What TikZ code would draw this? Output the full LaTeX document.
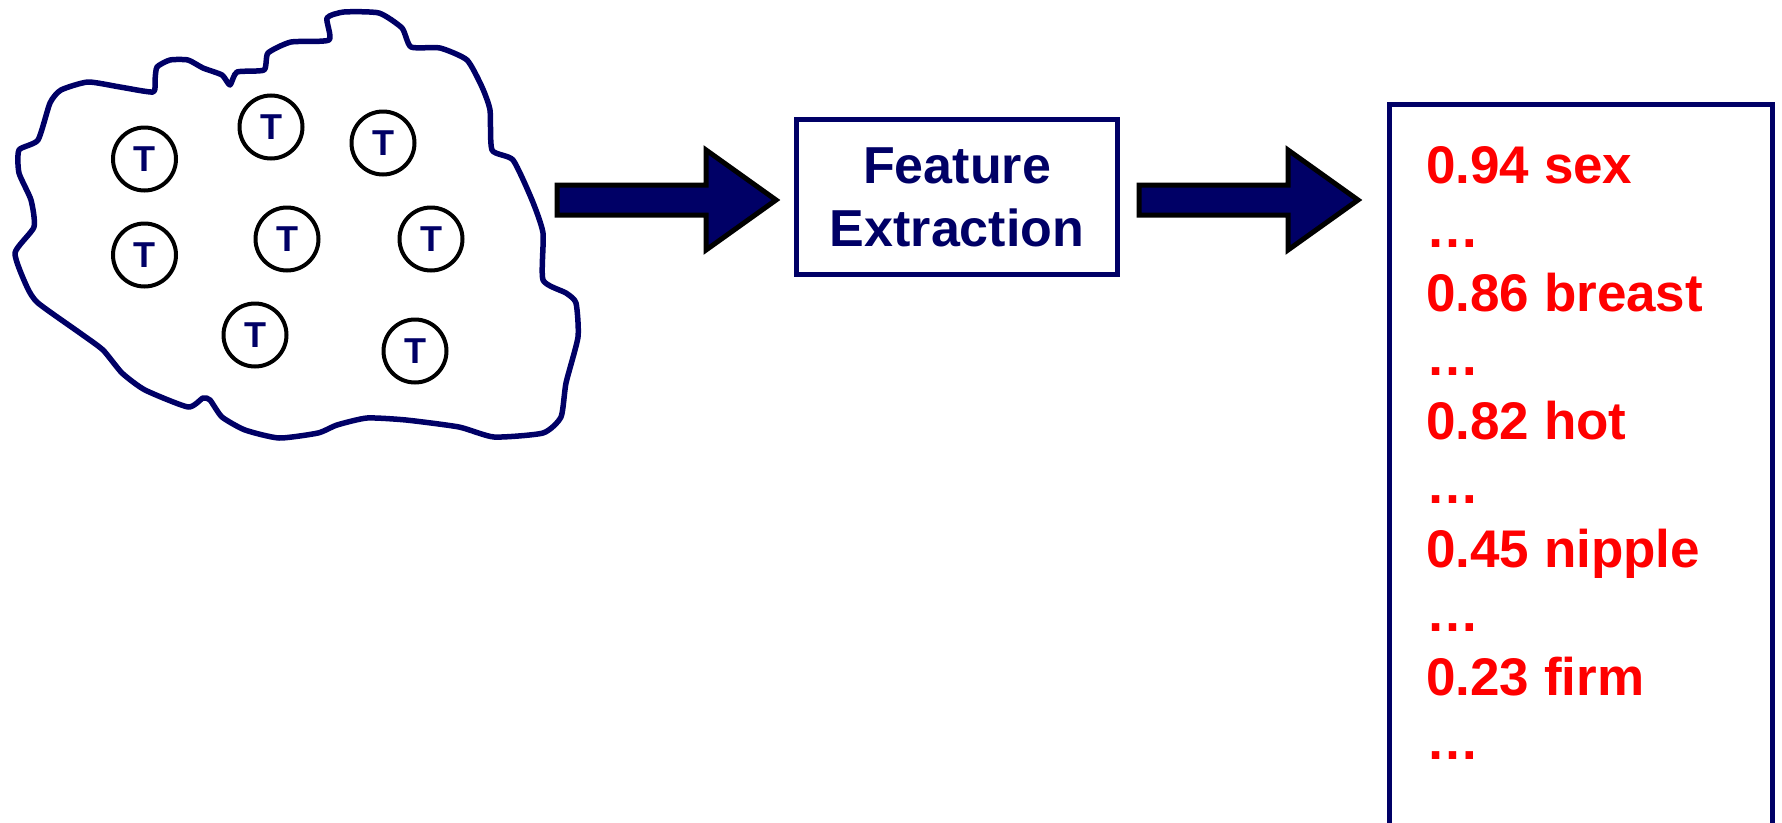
\documentclass[tikz,border=0pt]{standalone}
\usepackage{fontspec}
\setmainfont{Liberation Sans}
\definecolor{navy}{RGB}{0,0,102}
\definecolor{scorered}{RGB}{255,0,0}

\tikzset{
  blobline/.style={draw=navy, line width=5.5pt, line join=round},
  token/.style={circle, draw=black, line width=4pt, minimum size=63pt, inner sep=0pt,
    text=navy, font=\fontsize{36}{36}\selectfont\bfseries},
  arrowpaint/.style={draw=black, fill=navy, line width=5pt, line join=miter},
  pics/fatarrow/.style={code={
    \draw[arrowpaint] (0,-15) -- (149,-15) -- (149,-50) -- (219,0) -- (149,50)
      -- (149,15) -- (0,15) -- cycle;}},
  stagebox/.style={draw=navy, line width=4.5pt, minimum width=321pt, minimum height=155pt,
    inner sep=0pt, text=navy, align=center, font=\fontsize{52}{63}\selectfont\bfseries},
  outframe/.style={draw=navy, line width=4.5pt},
  listtext/.style={anchor=base west, inner sep=0pt, text=scorered,
    font=\fontsize{53}{64}\selectfont\bfseries}
}

\begin{document}
\begin{tikzpicture}[x=1pt, y=-1pt]
\useasboundingbox (0,0) rectangle (1782,822);
\clip (0,0) rectangle (1782,822);

% document collection outline
\draw[blobline] plot[smooth cycle, tension=0.35] coordinates {
  (88,82) (120,87) (153,92) (155,80) (157,67) (170,60) (188,60) (203,68) (222,75)
  (230,85) (237,72) (264,70) (268,53) (291,42) (329,40) (327,18) (344,12) (379,13)
  (402,28) (411,47) (440,48) (467,60) (482,87) (490,110) (492,150) (513,160)
  (532,200) (543,233) (543,280) (566,293) (576,303) (578,337) (566,383) (561,417)
  (543,433) (494,437) (459,427) (406,420) (367,418) (337,425) (318,433) (279,438)
  (245,430) (222,417) (210,400) (203,398) (188,407) (145,390) (122,373) (103,350)
  (80,333) (38,303) (27,287) (15,253) (34,227) (31,200) (19,173) (19,150) (38,140)
  (50,103) (61,90)};

% text tokens
\node[token] (t1) at (144.5,159) {T};
\node[token] (t2) at (271,127) {T};
\node[token] (t3) at (383,143) {T};
\node[token] (t4) at (144.5,255) {T};
\node[token] (t5) at (287,239) {T};
\node[token] (t6) at (431,239) {T};
\node[token] (t7) at (255,335) {T};
\node[token] (t8) at (415,351) {T};

% processing stage
\node[stagebox] (fe) at (957,197) {Feature\\Extraction};

% flow arrows
\pic at (557,200) {fatarrow};
\pic at (1139,200) {fatarrow};

% weighted feature list
\draw[outframe] (1389.5,104.5) rectangle (1772.5,880);
\coordinate (list) at (1426,183);
\node[listtext] (w1) at (list) {0.94 sex};
\node[listtext] (d1) at ([yshift=-64pt]list) {…};
\node[listtext] (w2) at ([yshift=-128pt]list) {0.86 breast};
\node[listtext] (d2) at ([yshift=-192pt]list) {…};
\node[listtext] (w3) at ([yshift=-256pt]list) {0.82 hot};
\node[listtext] (d3) at ([yshift=-320pt]list) {…};
\node[listtext] (w4) at ([yshift=-384pt]list) {0.45 nipple};
\node[listtext] (d4) at ([yshift=-448pt]list) {…};
\node[listtext] (w5) at ([yshift=-512pt]list) {0.23 firm};
\node[listtext] (d5) at ([yshift=-576pt]list) {…};
\end{tikzpicture}
\end{document}
